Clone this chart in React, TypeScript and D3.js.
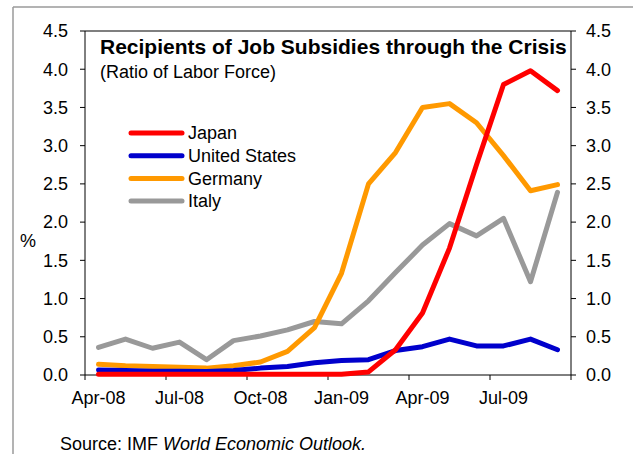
import React from "react";
import * as d3 from "d3";

const months = [
  "Apr-08", "May-08", "Jun-08", "Jul-08", "Aug-08", "Sep-08",
  "Oct-08", "Nov-08", "Dec-08", "Jan-09", "Feb-09", "Mar-09",
  "Apr-09", "May-09", "Jun-09", "Jul-09", "Aug-09", "Sep-09",
];
const tickLabels = ["Apr-08", "Jul-08", "Oct-08", "Jan-09", "Apr-09", "Jul-09"];
const yTicks = [0, 0.5, 1, 1.5, 2, 2.5, 3, 3.5, 4, 4.5];

const japan = [0.01, 0.01, 0.01, 0.01, 0.01, 0.01, 0.01, 0.01, 0.01, 0.01, 0.04, 0.33, 0.81, 1.66, 2.75, 3.8, 3.98, 3.72];
const unitedStates = [0.065, 0.06, 0.05, 0.05, 0.045, 0.06, 0.09, 0.11, 0.16, 0.19, 0.2, 0.32, 0.37, 0.47, 0.38, 0.38, 0.47, 0.33];
const germany = [0.14, 0.12, 0.11, 0.1, 0.09, 0.12, 0.17, 0.31, 0.62, 1.33, 2.5, 2.91, 3.5, 3.55, 3.3, 2.87, 2.41, 2.49];
const italy = [0.36, 0.47, 0.35, 0.43, 0.2, 0.45, 0.51, 0.59, 0.7, 0.67, 0.97, 1.34, 1.7, 1.98, 1.82, 2.05, 1.22, 2.39];

const seriesNames = ["Japan", "United States", "Germany", "Italy"];
const seriesColors = ["#FF0000", "#0000CC", "#FF9900", "#999999"];
const seriesData = [japan, unitedStates, germany, italy];

const W = 633;
const H = 454;
const left = 85;
const right = 571;
const top = 31;
const bottom = 375;
const FONT = "Arial, 'Liberation Sans', sans-serif";

export default function App() {
  const x = d3.scaleLinear().domain([0, months.length]).range([left, right]);
  const y = d3.scaleLinear().domain([0, 4.5]).range([bottom, top]);
  const line = d3
    .line<number>()
    .x((_, i) => x(i + 0.5))
    .y((d) => y(d));
  const xTickPositions = d3.range(0, months.length + 1, 3);
  const order = [3, 2, 1, 0];

  return (
    <svg
      width={W}
      height={H}
      style={{ position: "absolute", left: 0, top: 0, background: "#fff" }}
      fontFamily={FONT}
    >
      <rect x={0} y={0} width={W} height={H} fill="#fff" />
      {/* outer frame */}
      <line x1={13} y1={7} x2={W} y2={7} stroke="#9a9a9a" strokeWidth={1.5} />
      <line x1={13} y1={7} x2={13} y2={H} stroke="#9a9a9a" strokeWidth={1.5} />

      {/* plot box */}
      <line x1={left} y1={top} x2={right} y2={top} stroke="#555" strokeWidth={1.5} />
      <line x1={right} y1={top} x2={right} y2={bottom} stroke="#000" strokeWidth={1} />
      <line x1={left} y1={top} x2={left} y2={bottom} stroke="#000" strokeWidth={1} />
      <line x1={left} y1={bottom} x2={right} y2={bottom} stroke="#000" strokeWidth={1} />

      {/* y ticks */}
      {yTicks.map((t) => (
        <g key={"y" + t}>
          <line x1={left - 5} x2={left} y1={y(t)} y2={y(t)} stroke="#000" />
          <line x1={right} x2={right + 5} y1={y(t)} y2={y(t)} stroke="#000" />
          <text x={68} y={y(t)} dy="0.35em" textAnchor="end" fontSize={18} fill="#000">
            {t.toFixed(1)}
          </text>
          <text x={586} y={y(t)} dy="0.35em" textAnchor="start" fontSize={18} fill="#000">
            {t.toFixed(1)}
          </text>
        </g>
      ))}

      {/* x ticks */}
      {xTickPositions.map((p) => (
        <line key={"xt" + p} x1={x(p)} x2={x(p)} y1={bottom} y2={bottom + 5} stroke="#000" />
      ))}
      {tickLabels.map((lab, k) => (
        <text
          key={lab}
          x={x(k * 3 + 0.5)}
          y={404}
          textAnchor="middle"
          fontSize={18}
          fill="#000"
        >
          {lab}
        </text>
      ))}

      <text x={28} y={241} dy="0.35em" textAnchor="middle" fontSize={18} fill="#000">
        %
      </text>

      {/* series */}
      {order.map((si) => (
        <path
          key={seriesNames[si]}
          d={line(seriesData[si]) || ""}
          fill="none"
          stroke={seriesColors[si]}
          strokeWidth={5}
          strokeLinejoin="round"
          strokeLinecap="round"
        />
      ))}

      {/* title */}
      <text x={100} y={54} fontSize={21} fontWeight="bold" fill="#000">
        Recipients of Job Subsidies through the Crisis
      </text>
      <text x={100} y={78} fontSize={18} fill="#000">
        (Ratio of Labor Force)
      </text>

      {/* legend */}
      {seriesNames.map((name, i) => {
        const ly = 133 + i * 22.7;
        return (
          <g key={"lg" + name}>
            <line
              x1={131}
              x2={182}
              y1={ly}
              y2={ly}
              stroke={seriesColors[i]}
              strokeWidth={5}
              strokeLinecap="round"
            />
            <text x={188} y={ly} dy="0.35em" fontSize={18} fill="#000">
              {name}
            </text>
          </g>
        );
      })}

      {/* source */}
      <text x={60} y={450} fontSize={18} fill="#000">
        Source: IMF <tspan fontStyle="italic">World Economic Outlook.</tspan>
      </text>
    </svg>
  );
}
